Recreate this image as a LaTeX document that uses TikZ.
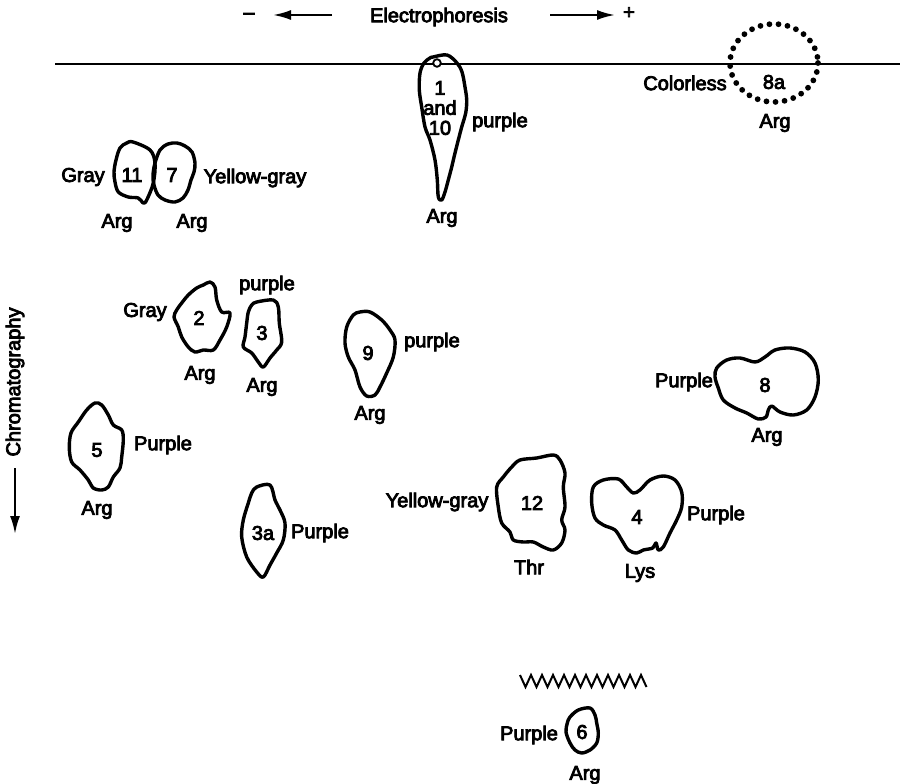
\documentclass[tikz,border=0pt]{standalone}
\usepackage{fontspec}
\setmainfont{Liberation Sans}[FakeBold=4]
\usepackage{tikz}
\usetikzlibrary{arrows.meta}

\newcommand{\lblfont}{\fontsize{20}{20}\selectfont}

\begin{document}
\begin{tikzpicture}[
  x=1pt, y=-1pt,
  spot/.style={line width=3.4pt, line join=round},
  lbl/.style={inner sep=0pt, font=\lblfont},
  arrow/.style={-{Latex[length=18pt,width=10pt]}, line width=2.2pt}
]
\useasboundingbox (0,0) rectangle (900,784);

% axes
\draw[line width=1.8pt] (55,64) -- (900,64);
\node[lbl] (ep) at (439,17) {Electrophoresis};
\node[lbl] (minus) at (249,16) {--};
\node[lbl] (plus) at (629,13) {+};
\coordinate (mfrom) at (332,15);
\coordinate (mto) at (273,15);
\coordinate (pfrom) at (550,15);
\coordinate (pto) at (615,15);
\draw[arrow] (mfrom) -- (mto);
\draw[arrow] (pfrom) -- (pto);

\node[lbl, rotate=90] (chrom) at (15,382) {Chromatography};
\coordinate (cfrom) at (15,468);
\coordinate (cto) at (15,534);
\draw[arrow] (cfrom) -- (cto);

% spots 1 and 10
\draw[spot] plot[smooth cycle, tension=0.55] coordinates {
  (433,57) (447,55) (457,63) (462,72) (465,87) (466.7,100) (465.7,113)
  (461.7,127) (458.3,140) (455,153) (451.7,167) (448.3,180) (445,192)
  (441.7,200) (438.3,197) (437.3,180) (435,160) (430,140) (425,127)
  (421.7,107) (419.3,90) (420,73) (424,63) (430,58)};
\draw[line width=1.8pt, fill=white] (437,63) circle (3.8);
\node[lbl, align=center] (s1) at (440,108) {1\\and\\10};
\node[lbl] (c1) at (500,122) {purple};
\node[lbl] (a1) at (442,218) {Arg};

% spot 8a
\draw[line width=5.8pt, line cap=round, dash pattern=on 0pt off 9.1pt]
  (774,63) ellipse [x radius=44, y radius=39];
\node[lbl] (s8a) at (774,82) {8a};
\node[lbl] (c8a) at (685,83) {Colorless};
\node[lbl] (a8a) at (775,123) {Arg};

% spots 11 and 7
\draw[spot] plot[smooth cycle, tension=0.55] coordinates {
  (133,142) (150,150) (155,163) (153.3,183) (146.7,200) (143.3,203)
  (138.3,198) (128.3,197) (118.3,192) (115,182) (114,172) (116,160)
  (120,148) (126.7,143)};
\draw[spot] plot[smooth cycle, tension=0.55] coordinates {
  (155,163) (160,150) (168,144) (177,143) (185,146) (192,152) (195,163)
  (194,172) (191,180) (188,190) (183,198) (175,202) (165,200) (158,195)
  (154,185) (153,175)};
\node[lbl] (s11) at (132,175) {11};
\node[lbl] (s7) at (172,175) {7};
\node[lbl] (c11) at (83,177) {Gray};
\node[lbl] (c7) at (255,178) {Yellow-gray};
\node[lbl] (a11) at (117,223) {Arg};
\node[lbl] (a7) at (192,223) {Arg};

% spot 2
\draw[spot] plot[smooth cycle, tension=0.55] coordinates {
  (210,282) (215,287) (216.7,300) (221.7,312) (230,313) (226.7,327)
  (220,340) (213.3,350) (203.3,350) (195,352) (188.3,347) (181.7,337)
  (178.3,327) (174,317) (176.7,310) (181.7,303) (188.3,295) (196.7,288)
  (203.3,285)};
\node[lbl] (s2) at (199,318) {2};
\node[lbl] (c2) at (145,312) {Gray};
\node[lbl] (a2) at (200,375) {Arg};

% spot 3
\draw[spot] plot[smooth cycle, tension=0.55] coordinates {
  (256.7,302) (273.3,300) (278.3,307) (279.3,323) (281.7,342) (276.7,350)
  (270,358) (263.3,367) (258.3,362) (251.7,353) (243.3,347) (245,337)
  (246.7,323) (248.3,312) (251.7,305)};
\node[lbl] (s3) at (262,333) {3};
\node[lbl] (c3) at (267,285) {purple};
\node[lbl] (a3) at (262,387) {Arg};

% spot 9
\draw[spot] plot[smooth cycle, tension=0.55] coordinates {
  (360,312) (370,312) (381.7,320) (390,330) (395,340) (393.3,357)
  (386.7,373) (380,387) (375,395) (366.7,396) (360,387) (355,370)
  (348.3,357) (345,343) (346.7,327) (353.3,315)};
\node[lbl] (s9) at (368,353) {9};
\node[lbl] (c9) at (432,342) {purple};
\node[lbl] (a9) at (370,415) {Arg};

% spot 5
\draw[spot] plot[smooth cycle, tension=0.55] coordinates {
  (95,403) (101.7,405) (108.3,415) (113.3,425) (121.7,430) (123.3,440)
  (121.7,457) (120,468) (113.3,477) (108.3,487) (101.7,490) (93.3,488)
  (88.3,480) (80,470) (71.7,462) (69.3,448) (71,433) (78.3,422) (86.7,410)};
\node[lbl] (s5) at (97,450) {5};
\node[lbl] (c5) at (163,445) {Purple};
\node[lbl] (a5) at (97,510) {Arg};

% spot 3a
\draw[spot] plot[smooth cycle, tension=0.55] coordinates {
  (256.7,487) (270,485) (275,500) (280,510) (285,523) (283.3,540)
  (276.7,553) (270,565) (263.3,577) (256.7,572) (246.7,557) (241.7,537)
  (243.3,520) (248.3,503) (251.7,493)};
\node[lbl] (s3a) at (263,533) {3a};
\node[lbl] (c3a) at (320,533) {Purple};

% spot 8
\draw[spot] plot[smooth cycle, tension=0.55] coordinates {
  (716.7,368) (726.7,360) (740,358) (755,362) (765,357) (775,350)
  (790,348) (805,352) (815,363) (818.3,380) (815,397) (806.7,410)
  (793.3,415) (780,412) (771.7,406) (768.3,410) (766,417) (758.3,419)
  (746.7,413) (735,408) (723.3,400) (718.3,388) (715,377)};
\node[lbl] (s8) at (765,385) {8};
\node[lbl] (c8) at (684,382) {Purple};
\node[lbl] (a8) at (767,437) {Arg};

% spot 12
\draw[spot] plot[smooth cycle, tension=0.55] coordinates {
  (520,460) (536.7,458) (553.3,455) (560,460) (565,473) (563.3,487)
  (565,507) (561.7,520) (565,530) (561.7,543) (553.3,550) (543.3,547)
  (533.3,542) (523.3,542) (513.3,540) (510,532) (501.7,523) (498.3,507)
  (496.7,487) (503.3,477) (511.7,467)};
\node[lbl] (s12) at (532,503) {12};
\node[lbl] (c12) at (437,502) {Yellow-gray};
\node[lbl] (a12) at (529,567) {Thr};

% spot 4
\draw[spot] plot[smooth cycle, tension=0.55] coordinates {
  (593.3,487) (603.3,480) (618.3,479) (626.7,487) (633.3,493) (640,490)
  (650,480) (663.3,476) (675,480) (681.7,492) (681.7,507) (676.7,520)
  (670,533) (663.3,547) (658.3,550) (656,543) (652.7,548) (643.3,550)
  (636.7,553) (628.3,550) (621.7,540) (615,530) (603.3,525) (595,518)
  (591.7,503)};
\node[lbl] (s4) at (637,517) {4};
\node[lbl] (c4) at (716,515) {Purple};
\node[lbl] (a4) at (640,573) {Lys};

% front and spot 6
\draw[line width=2pt, line join=miter] (520,675)
  \foreach \k in {1,...,11} { -- ++(5.5,12) -- ++(5.5,-12) } -- ++(5.5,12);
\draw[spot] plot[smooth cycle, tension=0.55] coordinates {
  (570,717) (578.3,710) (590,708) (595,715) (596.7,723) (598.3,733)
  (596.7,743) (590,750) (581.7,753) (575,750) (570,743) (566,732)
  (567.3,723)};
\node[lbl] (s6) at (582,732) {6};
\node[lbl] (c6) at (529,735) {Purple};
\node[lbl] (a6) at (585,775) {Arg};

\end{tikzpicture}
\end{document}
